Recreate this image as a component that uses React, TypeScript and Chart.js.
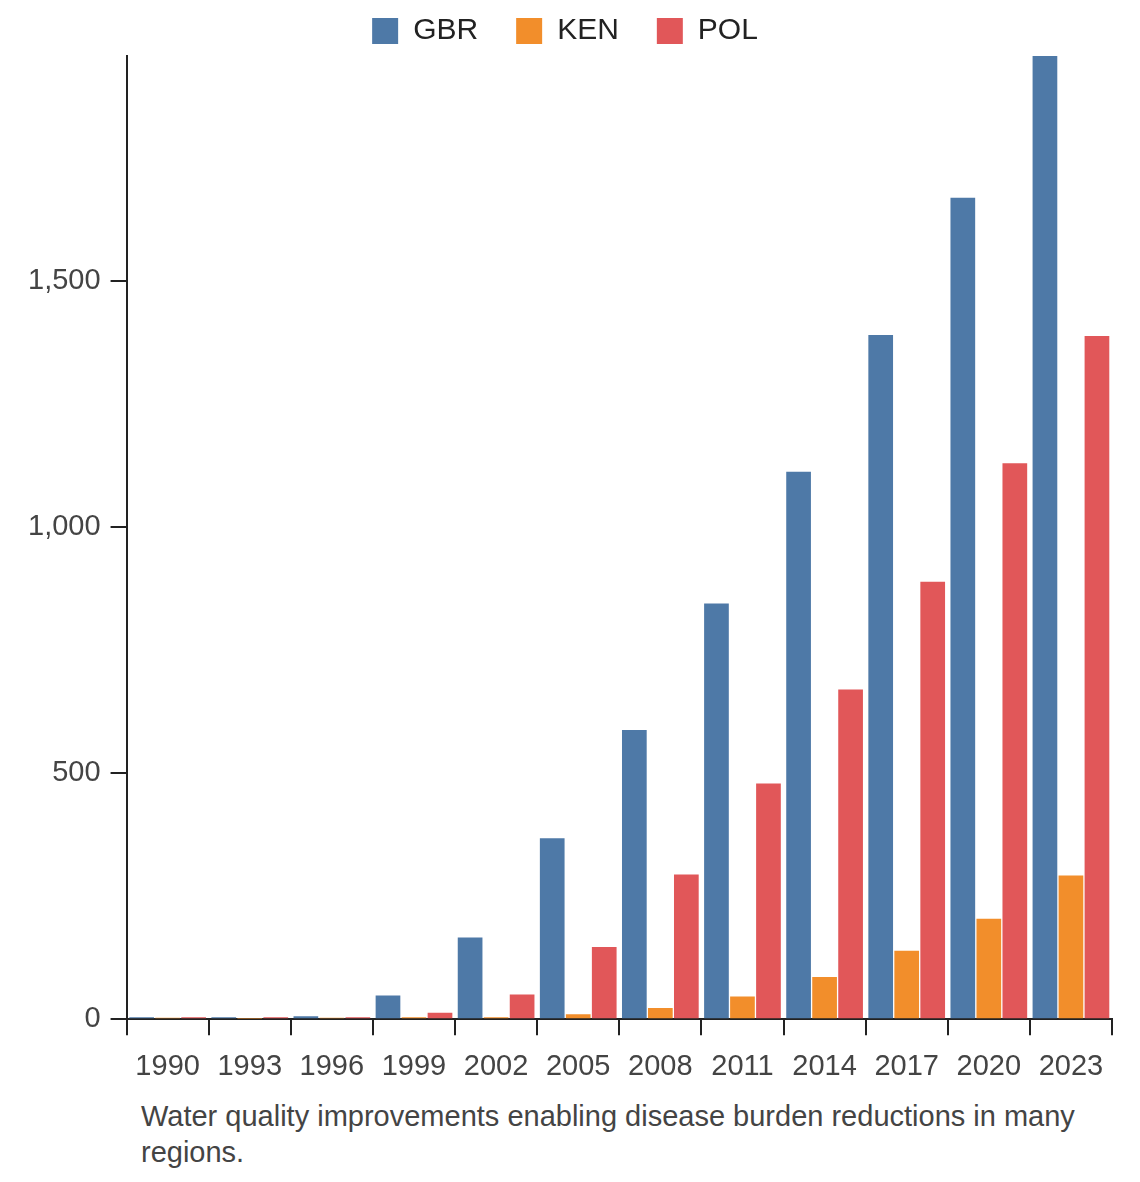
import React, { useEffect, useRef } from "react";
import { Chart, registerables } from "chart.js";
Chart.register(...registerables);

const categories = ["1990","1993","1996","1999","2002","2005","2008","2011","2014","2017","2020","2023"];
const gbr = [4, 4, 6, 48, 166, 368, 588, 845, 1113, 1391, 1670, 1958];
const ken = [3, 1, 3, 4, 4, 10, 23, 46, 86, 139, 204, 292];
const pol = [4, 4, 4, 13, 50, 147, 294, 479, 670, 889, 1130, 1389];
const yTicks = [0, 500, 1000, 1500];

export default function App() {
  const ref = useRef<HTMLCanvasElement>(null);
  useEffect(() => {
    const c = new Chart(ref.current!, {
      type: "bar",
      data: {
        labels: categories,
        datasets: [
          { label: "GBR", data: gbr, backgroundColor: "#4e79a7" },
          { label: "KEN", data: ken, backgroundColor: "#f28e2b" },
          { label: "POL", data: pol, backgroundColor: "#e15759" },
        ],
      },
      options: {
        animation: false,
        responsive: false,
        layout: { padding: { left: 10, right: 20, top: 0 } },
        datasets: { bar: { categoryPercentage: 0.95, barPercentage: 0.95 } } as any,
        plugins: {
          legend: {
            position: "top",
            labels: { font: { size: 30, family: "Arial, Liberation Sans" }, color: "#222", boxWidth: 26, boxHeight: 26, padding: 38 },
          },
          tooltip: { enabled: false },
        },
        scales: {
          x: {
            grid: { display: true, drawOnChartArea: false, offset: true, tickLength: 16, color: "#222", lineWidth: 2 },
            border: { color: "#222", width: 2 },
            ticks: { font: { size: 29, family: "Arial, Liberation Sans" }, color: "#444", maxRotation: 0, autoSkip: false, padding: 14 },
          },
          y: {
            min: 0,
            max: 1958,
            afterBuildTicks: (s: any) => { s.ticks = yTicks.map((v) => ({ value: v })); },
            grid: { drawOnChartArea: false, tickLength: 16, color: "#222", lineWidth: 2 },
            border: { color: "#222", width: 2 },
            ticks: { font: { size: 29, family: "Arial, Liberation Sans" }, color: "#444", padding: 10 },
          },
        },
      },
    });
    return () => c.destroy();
  }, []);
  return (
    <div style={{ width: 1124, marginTop: -30 }}>
      <canvas ref={ref} width={1124} height={1120} />
      <div style={{ marginLeft: 133, marginTop: 0, fontFamily: "Arial, Liberation Sans", fontSize: 29, color: "#444", lineHeight: "36px", width: 990 }}>
        Water quality improvements enabling disease burden reductions in many regions.
      </div>
    </div>
  );
}
